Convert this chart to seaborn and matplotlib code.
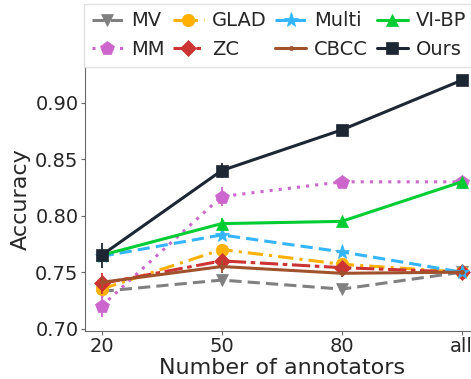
import matplotlib
matplotlib.use("Agg")
import matplotlib.pyplot as plt
import seaborn as sns
import pandas as pd

# x categories
annotators = ["20", "50", "80", "all"]

# mean accuracy per method
mv = [0.733, 0.743, 0.735, 0.750]
mm = [0.720, 0.817, 0.830, 0.830]
glad = [0.735, 0.770, 0.757, 0.750]
zc = [0.740, 0.760, 0.754, 0.750]
multi = [0.764, 0.783, 0.768, 0.750]
cbcc = [0.741, 0.755, 0.749, 0.750]
vibp = [0.765, 0.793, 0.795, 0.830]
ours = [0.765, 0.840, 0.876, 0.920]

# error bar half-widths
mv_err = [0.004, 0.004, 0.003, 0.002]
mm_err = [0.010, 0.008, 0.003, 0.002]
glad_err = [0.006, 0.005, 0.003, 0.002]
zc_err = [0.009, 0.005, 0.003, 0.003]
multi_err = [0.004, 0.004, 0.003, 0.002]
cbcc_err = [0.005, 0.006, 0.003, 0.002]
vibp_err = [0.004, 0.005, 0.003, 0.002]
ours_err = [0.011, 0.007, 0.002, 0.001]

methods = ["MV", "MM", "GLAD", "ZC", "Multi", "CBCC", "VI-BP", "Ours"]
values = [mv, mm, glad, zc, multi, cbcc, vibp, ours]
errors = [mv_err, mm_err, glad_err, zc_err, multi_err, cbcc_err, vibp_err, ours_err]

colors = ["#808080", "#cc66cc", "#ffb000", "#cc3333", "#33b5ff", "#a0522d", "#00cc33", "#1c2733"]
markers = ["v", "p", "o", "D", "*", ".", "^", "s"]
styles = [(0, (4, 2)), (0, (1, 2)), (0, (5, 2, 1, 2)), (0, (6, 1.5, 1.5, 1.5)),
          (0, (4, 2)), "-", "-", "-"]
sizes = [9, 10, 9, 8, 11, 6, 9, 9]

sns.set_style("ticks")
plt.rcParams["axes.edgecolor"] = "0.4"

fig = plt.figure(figsize=(4.71, 3.79), dpi=100)
ax = fig.add_axes([0.180, 0.127, 0.836, 0.697])

pos = list(range(len(annotators)))
for name, vals, err, c, m, ls, ms in zip(methods, values, errors, colors, markers, styles, sizes):
    df = pd.DataFrame({"x": pos, "y": vals})
    ax.errorbar(pos, vals, yerr=err, fmt="none", ecolor=c, elinewidth=1.3, capsize=0)
    sns.lineplot(data=df, x="x", y="y", ax=ax, color=c, marker=m, markersize=ms,
                 linestyle=ls, linewidth=2.2, label=name, markeredgewidth=0.5,
                 markeredgecolor=c)

ax.set_xticks(pos)
ax.set_xticklabels(annotators)
ax.set_xlim(-0.14, 3.14)
ax.set_ylim(0.698, 0.932)
ax.set_yticks([0.70, 0.75, 0.80, 0.85, 0.90])
ax.tick_params(labelsize=14, color="0.4", length=3, pad=1.5)
ax.set_xlabel("Number of annotators", fontsize=16, labelpad=1)
ax.set_ylabel("Accuracy", fontsize=16, labelpad=3)
sns.despine(ax=ax)

ax.legend(ncol=4, fontsize=14, loc="lower left", bbox_to_anchor=(84 / 471, 312 / 379),
          bbox_transform=fig.transFigure, handlelength=1.6, handletextpad=0.4,
          columnspacing=0.45, borderaxespad=0, fancybox=False, edgecolor="0.85",
          labelspacing=0.5)

fig.savefig("out.png", dpi=100)
